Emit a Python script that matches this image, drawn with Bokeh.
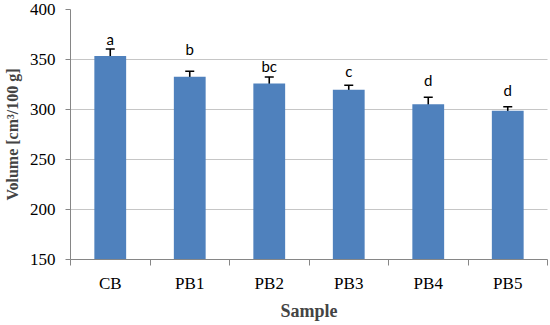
from bokeh.plotting import figure
from bokeh.models import ColumnDataSource, Range1d, FixedTicker, Whisker, TeeHead
from bokeh.core.properties import value
from bokeh.embed import file_html
from bokeh.resources import INLINE

# ---- data ----
samples = ["CB", "PB1", "PB2", "PB3", "PB4", "PB5"]
volumes = [353.5, 332.8, 326.0, 319.8, 305.2, 298.8]
errors = [7.0, 5.5, 6.5, 4.5, 7.0, 4.0]
letters = ["a", "b", "bc", "c", "d", "d"]
letter_y = [370.5, 360.5, 344.0, 339.0, 330.0, 319.5]
y_ticks = [150, 200, 250, 300, 350, 400]

xs = [i + 0.5 for i in range(len(samples))]
src = ColumnDataSource(dict(
    x=xs, v=volumes,
    up=[v + e for v, e in zip(volumes, errors)],
    lo=[v - e for v, e in zip(volumes, errors)],
    lab=letters, ly=letter_y,
))

p = figure(frame_width=477, frame_height=250, output_backend="svg", toolbar_location=None,
           x_range=Range1d(0, len(samples)), y_range=Range1d(150, 400),
           min_border_left=62, min_border_right=4, min_border_top=9, min_border_bottom=10)
p.outline_line_color = None
p.background_fill_color = "white"

p.vbar(x="x", top="v", bottom=150, width=0.4, source=src,
       fill_color="#4F81BD", line_color=None)

w = Whisker(base="x", upper="up", lower="lo", source=src,
            line_color="black", line_width=1.6,
            upper_head=TeeHead(size=9, line_color="black", line_width=1.6),
            lower_head=TeeHead(size=9, line_color="black", line_width=1.6))
p.add_layout(w)

p.text(x="x", y="ly", text="lab", source=src, text_align="center",
       text_baseline="alphabetic", text_font=value("Lato"),
       text_font_size="15px", text_color="black")

# y axis
p.yaxis.ticker = FixedTicker(ticks=y_ticks)
p.yaxis.axis_label = "Volume [cm³/100 g]"
p.yaxis.axis_label_text_font = "Liberation Serif"
p.yaxis.axis_label_text_font_style = "bold"
p.yaxis.axis_label_text_font_size = "16px"
p.yaxis.axis_label_standoff = 6
p.yaxis.major_label_text_font = "Liberation Serif"
p.yaxis.major_label_text_font_size = "17px"
p.yaxis.major_label_text_color = "black"
p.yaxis.major_label_standoff = 10
p.yaxis.axis_line_color = "#868686"
p.yaxis.major_tick_line_color = "#868686"
p.yaxis.major_tick_out = 5
p.yaxis.major_tick_in = 0
p.yaxis.minor_tick_line_color = None

# x axis: labels at centers, tick marks at boundaries
p.xaxis.ticker = FixedTicker(ticks=xs, minor_ticks=list(range(len(samples) + 1)))
p.xaxis.major_label_overrides = {x: s for x, s in zip(xs, samples)}
p.xaxis.major_tick_out = 0
p.xaxis.major_tick_in = 0
p.xaxis.minor_tick_out = 6
p.xaxis.minor_tick_in = 0
p.xaxis.minor_tick_line_color = "#868686"
p.xaxis.axis_line_color = "#868686"
p.xaxis.major_label_text_font = "Liberation Serif"
p.xaxis.major_label_text_font_size = "17px"
p.xaxis.major_label_text_color = "black"
p.xaxis.major_label_standoff = 8
p.xaxis.axis_label = "Sample"
p.xaxis.axis_label_text_font = "Liberation Serif"
p.xaxis.axis_label_text_font_style = "bold"
p.xaxis.axis_label_text_font_size = "18px"
p.xaxis.axis_label_standoff = 5

p.xgrid.grid_line_color = None
p.ygrid.ticker = FixedTicker(ticks=y_ticks)
p.ygrid.grid_line_color = "#8c8c8c"
p.ygrid.grid_line_dash = "1 1"
p.ygrid.grid_line_width = 1

open("out.html", "w").write(file_html(p, INLINE))
